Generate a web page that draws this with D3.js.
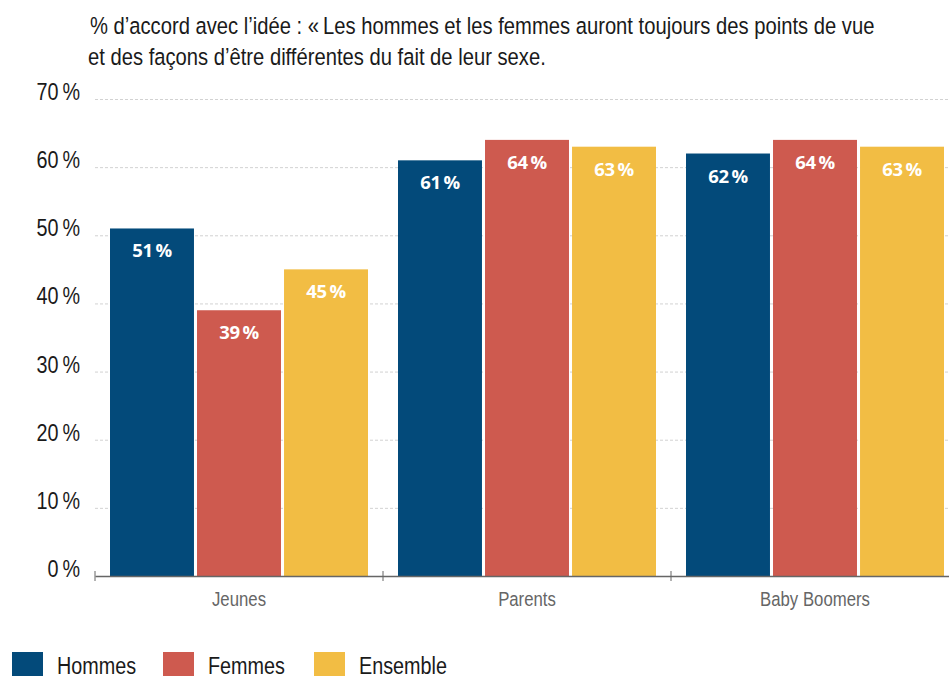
<!DOCTYPE html>
<html>
<head>
<meta charset="utf-8">
<script src="https://cdn.jsdelivr.net/npm/d3@7"></script>
<style>
  body { margin: 0; background: #fff; }
  svg { display: block; }
  .narrow { font-family: "Liberation Sans", Arial, sans-serif; }
</style>
</head>
<body>
<svg id="chart" width="949" height="679"></svg>
<script>
const groups = ['Jeunes', 'Parents', 'Baby Boomers'];
const series = ['Hommes', 'Femmes', 'Ensemble'];
const colors = ['#034a7a', '#ce5a4f', '#f2bd44'];
const hommes = [51, 61, 62];
const femmes = [39, 64, 64];
const ensemble = [45, 63, 63];
const yTicks = [0, 10, 20, 30, 40, 50, 60, 70];
const titleLines = [
  '% d\u2019accord avec l\u2019idée : «\u2009Les hommes et les femmes auront toujours des points de vue',
  'et des façons d\u2019être différentes du fait de leur sexe.'
];

// no narrow font installed: squeeze Liberation Sans a bit
const SX = 0.86;
const narrow = (sel, x, yy) => sel
  .attr('class', 'narrow')
  .attr('x', (d, i) => (typeof x === 'function' ? x(d, i) : x) / SX)
  .attr('y', yy)
  .attr('transform', `scale(${SX},1)`);

const values = [hommes, femmes, ensemble];
const rows = groups.map((g, i) => ({
  group: g,
  vals: series.map((s, k) => ({ key: s, value: values[k][i], color: colors[k] }))
}));

const svg = d3.select('#chart');

const x0 = d3.scaleBand().domain(groups).range([95, 959]).padding(0);
const x1 = d3.scaleBand().domain(series).range([15, 273]).paddingInner(0.035);
const y = d3.scaleLinear().domain([0, 70]).range([576, 99]);

// title
svg.append('g')
  .selectAll('text')
  .data(titleLines)
  .enter()
  .append('text')
  .call(narrow, (d, i) => i === 0 ? 90 : 88, (d, i) => 34 + i * 31)
  .style('font-size', '23.5px')
  .attr('fill', '#1a1a1a')
  .text(d => d);

// grid
svg.append('g')
  .selectAll('line')
  .data(yTicks.filter(t => t > 0))
  .enter()
  .append('line')
  .attr('x1', 95)
  .attr('x2', 949)
  .attr('y1', d => y(d) + 0.5)
  .attr('y2', d => y(d) + 0.5)
  .attr('stroke', '#d2d2d2')
  .attr('stroke-width', 1)
  .attr('stroke-dasharray', '3,2');

// y labels
svg.append('g')
  .selectAll('text')
  .data(yTicks)
  .enter()
  .append('text')
  .call(narrow, 80, d => y(d) + 1)
  .attr('text-anchor', 'end')
  .style('font-size', '23px')
  .attr('fill', '#1a1a1a')
  .text(d => `${d}\u2009%`);

// bars
const grp = svg.append('g')
  .selectAll('g')
  .data(rows)
  .enter()
  .append('g')
  .attr('transform', d => `translate(${x0(d.group)},0)`);

grp.selectAll('rect')
  .data(d => d.vals)
  .enter()
  .append('rect')
  .attr('x', d => x1(d.key))
  .attr('width', x1.bandwidth())
  .attr('y', d => y(d.value))
  .attr('height', d => y(0) - y(d.value))
  .attr('fill', d => d.color);

grp.selectAll('text')
  .data(d => d.vals)
  .enter()
  .append('text')
  .attr('x', d => x1(d.key) + x1.bandwidth() / 2)
  .attr('y', d => y(d.value) + 29)
  .attr('text-anchor', 'middle')
  .style('font-family', '"Open Sans", sans-serif')
  .style('font-weight', 'bold')
  .style('font-size', '18.5px')
  .style('letter-spacing', '-0.3px')
  .attr('fill', '#fff')
  .text(d => `${d.value}\u2009%`);

// x axis
const xAxis = d3.axisBottom(x0).tickSize(0).tickPadding(0);
const ax = svg.append('g')
  .attr('transform', `translate(0,${y(0)})`)
  .call(xAxis);
ax.select('.domain').attr('stroke', '#666').attr('stroke-width', 1.5);
ax.selectAll('.tick text')
  .attr('class', 'narrow')
  .attr('dy', null)
  .attr('y', 30)
  .attr('transform', `scale(${SX},1)`)
  .style('font-size', '19.5px')
  .attr('fill', '#666');

svg.append('g')
  .selectAll('line')
  .data([95, 383, 671])
  .enter()
  .append('line')
  .attr('x1', d => d)
  .attr('x2', d => d)
  .attr('y1', y(0) - 5)
  .attr('y2', y(0) + 5)
  .attr('stroke', '#666')
  .attr('stroke-width', 1);

// legend
const leg = svg.append('g')
  .selectAll('g')
  .data(series)
  .enter()
  .append('g')
  .attr('transform', (d, i) => `translate(${12 + i * 151},652)`);

leg.append('rect')
  .attr('width', 31)
  .attr('height', 24)
  .attr('fill', (d, i) => colors[i]);

leg.append('text')
  .call(narrow, 45, 22)
  .style('font-size', '23px')
  .attr('fill', '#1a1a1a')
  .text(d => d);
</script>
</body>
</html>
